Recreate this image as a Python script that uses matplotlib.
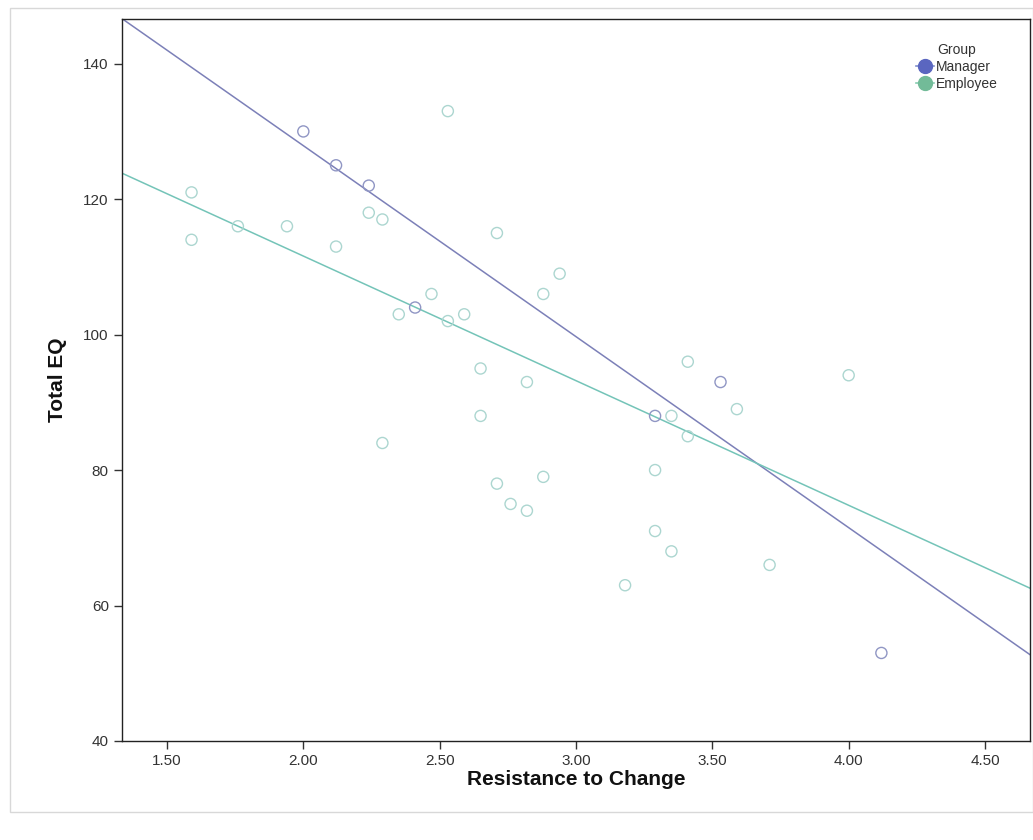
import matplotlib
matplotlib.use("Agg")
import matplotlib.pyplot as plt
from matplotlib.lines import Line2D
from matplotlib.patches import Rectangle
import numpy as np

plt.rcParams['font.family'] = ['Liberation Sans', 'DejaVu Sans']

# ---- data ----
emp_x = [1.59, 1.59, 1.76, 1.94, 2.12, 2.24, 2.29, 2.29, 2.35, 2.47, 2.53, 2.53,
         2.59, 2.65, 2.65, 2.71, 2.71, 2.76, 2.82, 2.82, 2.88, 2.88, 2.94, 3.18,
         3.29, 3.29, 3.35, 3.35, 3.41, 3.41, 3.59, 3.71, 4.00]
emp_y = [121, 114, 116, 116, 113, 118, 117, 84, 103, 106, 102, 133,
         103, 95, 88, 115, 78, 75, 74, 93, 106, 79, 109, 63,
         80, 71, 88, 68, 96, 85, 89, 66, 94]
mgr_x = [2.00, 2.12, 2.24, 2.41, 3.29, 3.53, 4.12]
mgr_y = [130, 125, 122, 104, 88, 93, 53]

# linear fit lines (intercept, slope)
mgr_fit = (184.3, -28.2)
emp_fit = (148.4, -18.4)

groups = ["Manager", "Employee"]
x_ticks = [1.50, 2.00, 2.50, 3.00, 3.50, 4.00, 4.50]
y_ticks = [40, 60, 80, 100, 120, 140]
x_lim = (1.335, 4.665)
y_lim = (40, 146.6)

mgr_color = "#7c80b8"
emp_color = "#74c4b8"
mgr_pt = "#9096c4"
emp_pt = "#acd6d0"

fig = plt.figure(figsize=(10.33, 8.40), dpi=100)
ax = fig.add_axes([122/1033, 1-741/840, (1030-122)/1033, (741-19)/840])

# outer light frame
fig.patches.append(Rectangle((10/1033, 1-812/840), (1033-10)/1033, (812-8)/840,
                             transform=fig.transFigure, fill=False,
                             edgecolor="#d8d8d8", linewidth=1.0))

ax.scatter(emp_x, emp_y, s=64, facecolors="none", edgecolors=emp_pt, linewidths=1.0, zorder=3)
ax.scatter(mgr_x, mgr_y, s=64, facecolors="none", edgecolors=mgr_pt, linewidths=1.0, zorder=3)

xs = np.array(x_lim)
ax.plot(xs, mgr_fit[0] + mgr_fit[1]*xs, color=mgr_color, linewidth=1.1, zorder=2)
ax.plot(xs, emp_fit[0] + emp_fit[1]*xs, color=emp_color, linewidth=1.1, zorder=2)

ax.set_xlim(*x_lim)
ax.set_ylim(*y_lim)
ax.set_xticks(x_ticks)
ax.set_xticklabels([f"{v:.2f}" for v in x_ticks])
ax.set_yticks(y_ticks)
ax.set_yticklabels([str(v) for v in y_ticks])
ax.tick_params(direction="out", length=6, width=1, colors="#333333", labelsize=11,
               labelcolor="#333333")

for sp in ax.spines.values():
    sp.set_color("#222222")
    sp.set_linewidth(1.0)

ax.set_xlabel("Resistance to Change", fontsize=15, fontweight="bold", labelpad=1, color="#111111")
ax.set_ylabel("Total EQ", fontsize=15, fontweight="bold", labelpad=12, color="#111111")

handles = [
    Line2D([0], [0], color="#7f8fcc", marker="o", markersize=10, markerfacecolor="#5a66c0",
           markeredgecolor="#5a66c0", linewidth=1.2),
    Line2D([0], [0], color="#88ccb0", marker="o", markersize=10, markerfacecolor="#72bb98",
           markeredgecolor="#72bb98", linewidth=1.2),
]
leg = ax.legend(handles, groups, title="Group", loc="upper right",
                bbox_to_anchor=(0.975, 0.98), frameon=False, fontsize=10,
                title_fontsize=10, handlelength=1.3, handletextpad=0.15,
                labelspacing=0.2, borderpad=0.2)
leg._legend_box.align = "center"
for t in leg.get_texts():
    t.set_color("#333333")
leg.get_title().set_color("#333333")

fig.savefig("out.png", dpi=100, facecolor="white")
